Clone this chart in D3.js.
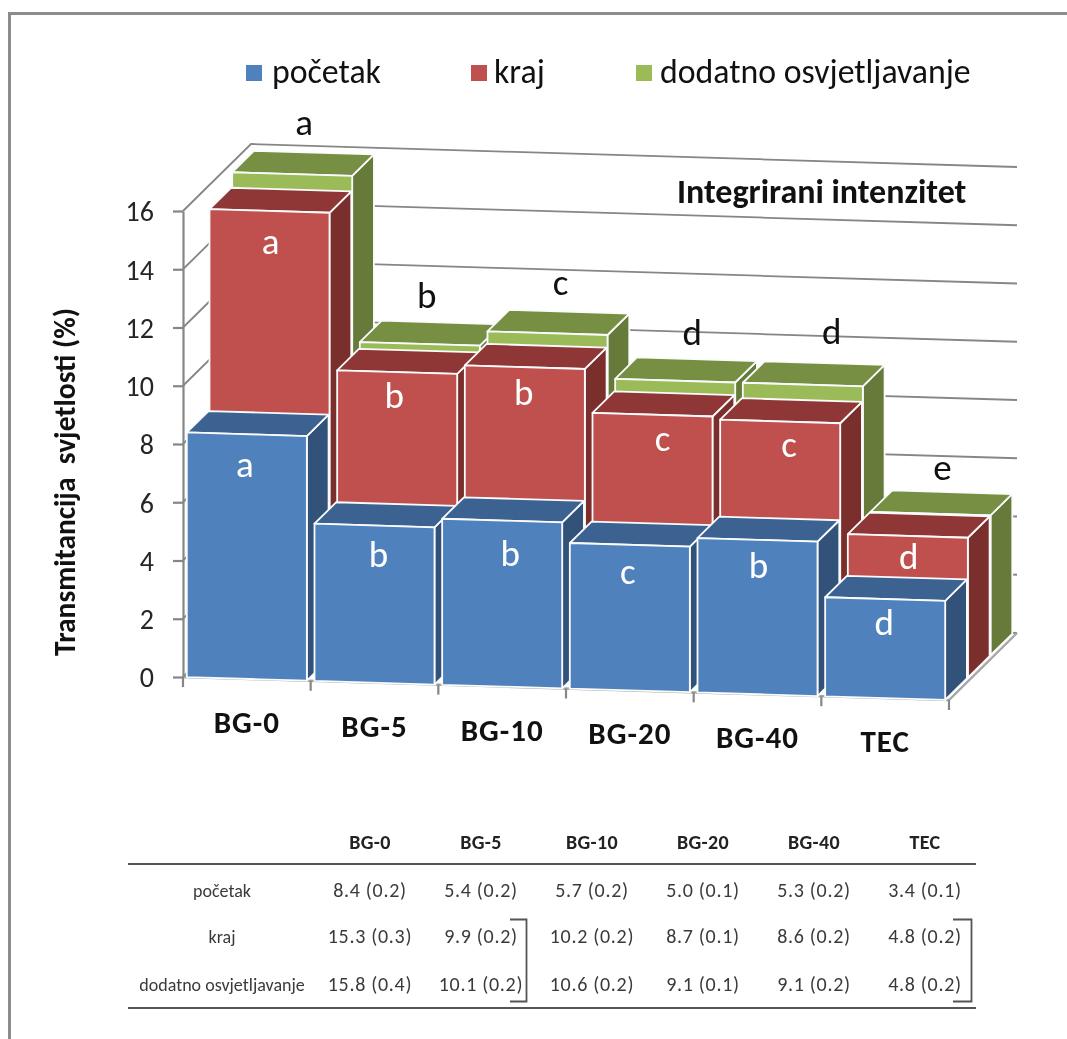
<!DOCTYPE html>
<html><head><meta charset="utf-8">
<script src="https://cdn.jsdelivr.net/npm/d3@7/dist/d3.min.js"></script>
<style>html,body{margin:0;padding:0;background:#fff}svg{display:block;filter:blur(0.4px)}text{font-family:Carlito,Lato,"Open Sans",sans-serif}</style>
</head><body><svg id="c" width="1067" height="1039"></svg>
<script>
const categories = ["BG-0","BG-5","BG-10","BG-20","BG-40","TEC"];
const seriesNames = ["početak","kraj","dodatno osvjetljavanje"];
const pocetak = [8.4,5.4,5.7,5.0,5.3,3.4];
const kraj = [15.3,9.9,10.2,8.7,8.6,4.8];
const dodatno = [15.8,10.1,10.6,9.1,9.1,4.8];
const pocetakSd = [0.2,0.2,0.2,0.1,0.2,0.1];
const krajSd = [0.3,0.2,0.2,0.1,0.2,0.2];
const dodatnoSd = [0.4,0.2,0.2,0.1,0.2,0.2];
const pocetakLetters = ["a","b","b","c","b","d"];
const krajLetters = ["a","b","b","c","c","d"];
const dodatnoLetters = ["a","b","c","d","d","e"];
const yTicks = [0,2,4,6,8,10,12,14,16];

const svg = d3.select("#c");
const GRID="#868686";
// scales of the oblique 3-D projection
const yS = d3.scaleLinear([0,16],[677,211]);
const xS = d3.scaleLinear([0,6],[183,949]);
const skew = d3.scaleLinear([0,6],[0,23]);
const depX = d3.scaleLinear([0,3],[0,68]);
const depY = d3.scaleLinear([0,3],[0,-67]);
const P = (c,d,v)=>[xS(c)+depX(d), yS(v)+skew(c)+depY(d)];
const poly = pts=>pts.map(p=>p.join(",")).join(" ");

// frame
svg.append("path").attr("d","M9.5,1039V13.5H1067").attr("fill","none").attr("stroke","#8c8c8c").attr("stroke-width",3);

// walls
const grid = svg.append("g").attr("fill","none").attr("stroke",GRID).attr("stroke-width",1.8);
yTicks.forEach(t=>{
  grid.append("polyline").attr("points",poly([P(0,0,t),P(0,3,t),P(6,3,t)]));
});
grid.append("polyline").attr("points",poly([P(0,0,0),P(6,0,0),P(6,3,0)])).attr("stroke","#a6a6a6").attr("stroke-width",2.4);

// y axis
const axisY = svg.append("g").attr("transform",`translate(${xS(0)},0)`)
  .call(d3.axisLeft(yS).tickValues(yTicks).tickSize(10).tickPadding(19).tickSizeOuter(0));
axisY.selectAll("path,line").attr("stroke",GRID).attr("stroke-width",2.2);
axisY.selectAll("text").attr("font-size",28).attr("dy","0.35em").attr("fill","#262626").style("font-family","Carlito,Lato,sans-serif");

// category ticks
const xTicks = svg.append("g").attr("stroke",GRID).attr("stroke-width",2.2);
d3.range(0,7).forEach(i=>{
  const [x,y]=P(i,0,0);
  xTicks.append("line").attr("x1",x).attr("x2",x).attr("y1",y).attr("y2",y+10);
});

// bars: back series first, left to right
const series = [
 {vals:dodatno,d:2,front:"#9BBB59",top:"#778F43",side:"#667A39"},
 {vals:kraj,d:1,front:"#C0504D",top:"#8E3736",side:"#7B2F2D"},
 {vals:pocetak,d:0,front:"#4F81BD",top:"#3C6291",side:"#335279"}
];
const L=.03,R=.97,B=.96;
const bars = svg.append("g").attr("stroke","#fafbfc").attr("stroke-width",1.8).attr("stroke-linejoin","round");
series.forEach(s=>{
  s.vals.forEach((v,i)=>{
    const d=s.d, g=bars.append("g");
    g.append("polygon").attr("fill",s.side).attr("points",poly([P(i+R,d,0),P(i+R,d+B,0),P(i+R,d+B,v),P(i+R,d,v)]));
    g.append("polygon").attr("fill",s.top).attr("points",poly([P(i+L,d,v),P(i+R,d,v),P(i+R,d+B,v),P(i+L,d+B,v)]));
    g.append("polygon").attr("fill",s.front).attr("points",poly([P(i+L,d,0),P(i+R,d,0),P(i+R,d,v),P(i+L,d,v)]));
  });
});

// significance letters
const lettersG = svg.append("g").attr("text-anchor","middle").attr("font-size",37);
const place=(letters,vals,d,nudge,fill)=>letters.forEach((t,i)=>{
  const [x,y]=P(i+.5,d,vals[i]);
  lettersG.append("text").attr("x",x+nudge[i][0]).attr("y",y+nudge[i][1]).attr("fill",fill).text(t);
});
place(pocetakLetters,pocetak,0,[[-2,43],[4,42],[8,45],[-2,39],[1,38],[-1,36]],"#fff");
place(krajLetters,kraj,1,[[1,43],[-3,36],[-1,38],[10,36],[9,36],[1,33]],"#fff");
place(dodatnoLetters,dodatno,2,[[12,-39],[7,-36],[13,-38],[17,-36],[29,-41],[12,-34]],"#111");

// category labels
svg.append("g").attr("text-anchor","middle").attr("font-size",31).attr("letter-spacing",1).attr("font-weight",700).attr("fill","#111")
 .selectAll("text").data(categories).join("text")
 .attr("x",(d,i)=>P(i+.5,0,0)[0]).attr("y",(d,i)=>P(i+.5,0,0)[1]+54).text(d=>d);

// axis title
svg.append("text").attr("transform","translate(75,482) rotate(-90)").attr("text-anchor","middle")
 .attr("font-size",29.5).attr("font-weight",700).attr("fill","#111").style("white-space","pre")
 .text("Transmitancija  svjetlosti (%)");

// inner label
svg.append("text").attr("x",677).attr("y",203).attr("font-size",34).attr("font-weight",700).attr("fill","#111").text("Integrirani intenzitet");

// legend
const legX=[246,471,636], txtX=[272,494,660], legC=["#4F81BD","#C0504D","#9BBB59"];
seriesNames.forEach((n,i)=>{
  svg.append("rect").attr("x",legX[i]).attr("y",65).attr("width",16).attr("height",16).attr("fill",legC[i]);
  svg.append("text").attr("x",txtX[i]).attr("y",83).attr("font-size",33.8).attr("fill","#111").text(n);
});

// table
const colX = d3.scalePoint(categories,[370,925]);
const TXT="#3a3a3a";
const tb = svg.append("g").attr("text-anchor","middle").attr("fill",TXT);
tb.selectAll("text.h").data(categories).join("text").attr("class","h")
 .attr("x",d=>colX(d)).attr("y",849).attr("font-size",20).attr("letter-spacing",.3).attr("font-weight",700).attr("fill","#222").text(d=>d);
const rows=[[pocetak,pocetakSd,897],[kraj,krajSd,943],[dodatno,dodatnoSd,991]];
rows.forEach((r,ri)=>{
  tb.append("text").attr("x",222).attr("y",r[2]).attr("font-size",18).text(seriesNames[ri]);
  categories.forEach((c,i)=>{
    tb.append("text").attr("x",colX(c)).attr("y",r[2]).attr("font-size",20).attr("letter-spacing",.7).text(`${r[0][i].toFixed(1)} (${r[1][i].toFixed(1)})`);
  });
});
const rules=svg.append("g").attr("stroke","#555").attr("stroke-width",1.8).attr("fill","none");
rules.append("line").attr("x1",128).attr("x2",976).attr("y1",864).attr("y2",864);
rules.append("line").attr("x1",128).attr("x2",976).attr("y1",1008).attr("y2",1008);
rules.append("path").attr("d","M510,919.5H526.5V1001.5H510");
rules.append("path").attr("d","M953,919.5H971.5V1001.5H953");
</script></body></html>
